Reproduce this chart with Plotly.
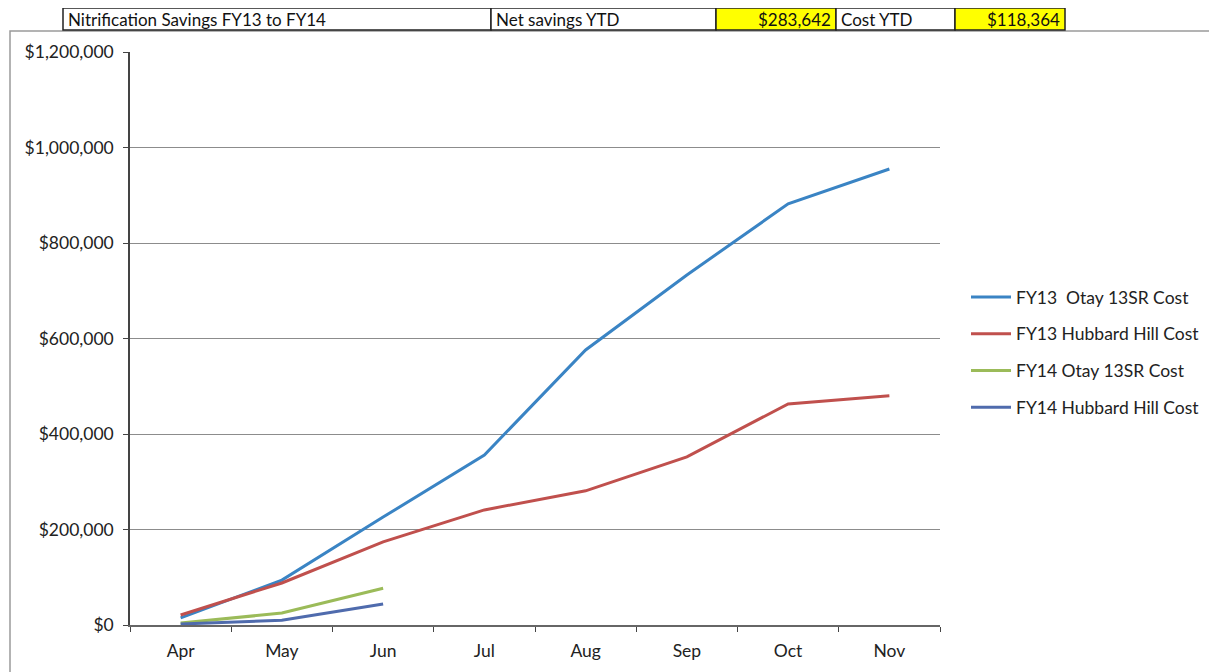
import plotly.graph_objects as go

months = ["Apr", "May", "Jun", "Jul", "Aug", "Sep", "Oct", "Nov"]
fy13_otay = [15000, 94000, 226000, 356000, 576000, 733000, 882000, 955000]
fy13_hubbard = [21000, 88000, 174000, 241000, 281000, 352000, 463000, 480000]
fy14_otay = [4000, 25000, 77000]
fy14_hubbard = [2000, 10000, 44000]
series_names = ["FY13  Otay 13SR Cost", "FY13 Hubbard Hill Cost",
                "FY14 Otay 13SR Cost", "FY14 Hubbard Hill Cost"]
colors = ["#3a84c4", "#c0504d", "#9bbb59", "#4f6bad"]
y_ticks = [0, 200000, 400000, 600000, 800000, 1000000, 1200000]
y_tick_text = ["$0", "$200,000", "$400,000", "$600,000", "$800,000", "$1,000,000", "$1,200,000"]

header_cells = [
    ("Nitrification Savings FY13 to FY14", "left", "white"),
    ("Net savings YTD", "left", "white"),
    ("$283,642", "right", "#ffff00"),
    ("Cost YTD", "left", "white"),
    ("$118,364", "right", "#ffff00"),
]
header_edges = [63, 491, 716, 836, 955, 1065]

OFF = 8  # page body margin
W, H = 1217 - OFF, 672 - OFF
L, R, T, B = 130 - OFF, 940 - OFF, 52 - OFF, 625 - OFF
FONT = "Lato, 'Open Sans', sans-serif"

def px(x):
    return (x - OFF - L) / (R - L)

def py(y):
    return (B - (y - OFF)) / (B - T)

fig = go.Figure()
for i, (name, ys, c) in enumerate(zip(series_names, [fy13_otay, fy13_hubbard, fy14_otay, fy14_hubbard], colors)):
    fig.add_trace(go.Scatter(x=months[:len(ys)], y=ys, mode="lines", name=name,
                             legendgroup=f"g{i}",
                             line=dict(color=c, width=3)))

shapes = []
annotations = []
# outer chart border
shapes.append(dict(type="rect", xref="paper", yref="paper", x0=px(10), x1=px(1222), y0=py(680), y1=py(31),
                   line=dict(color="#9a9a9a", width=1.5), fillcolor="rgba(0,0,0,0)", layer="below"))
# header table
for i, (txt, align, fill) in enumerate(header_cells):
    x0, x1 = header_edges[i], header_edges[i + 1]
    shapes.append(dict(type="rect", xref="paper", yref="paper", x0=px(x0), x1=px(x1), y0=py(30), y1=py(8),
                       line=dict(color="#222", width=1.5), fillcolor=fill))
    annotations.append(dict(xref="paper", yref="paper",
                            x=px(x0 + 3) if align == "left" else px(x1 - 3), y=py(19),
                            text=txt, showarrow=False, xanchor=align, yanchor="middle",
                            font=dict(family=FONT, size=17, color="#111")))

fig.update_layout(
    width=W, height=H,
    margin=dict(l=L, r=W - R, t=T, b=H - B),
    paper_bgcolor="white", plot_bgcolor="white",
    font=dict(family=FONT, size=17, color="#222"),
    shapes=shapes, annotations=annotations,
    legend=dict(x=px(966), y=py(352), xanchor="left", yanchor="middle",
                font=dict(size=17.5, color="#222"), tracegroupgap=11,
                itemwidth=40, bgcolor="rgba(0,0,0,0)"),
    xaxis=dict(type="category", categoryorder="array", categoryarray=months,
               range=[-0.5, 7.5], showgrid=False, showline=True, linecolor="#666", linewidth=1.5,
               ticks="outside", tickson="boundaries", ticklen=5, tickcolor="#444",
               ticklabelstandoff=9,
               tickfont=dict(size=17.5, color="#222"), zeroline=False),
    yaxis=dict(range=[0, 1200000], tickvals=y_ticks, ticktext=y_tick_text,
               showgrid=True, gridcolor="#8c8c8c", gridwidth=1.2,
               showline=True, linecolor="#444", linewidth=1.5,
               ticks="outside", ticklen=5, tickcolor="#444",
               ticklabelstandoff=6,
               tickfont=dict(size=17.5, color="#222"), zeroline=False),
)

fig.write_html("out.html")
